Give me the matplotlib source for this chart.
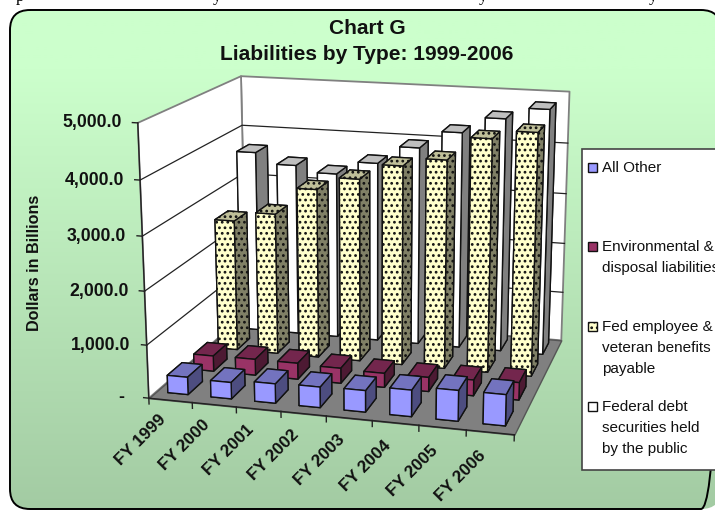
import numpy as np
import matplotlib
matplotlib.use("Agg")
import matplotlib.pyplot as plt
from matplotlib.patches import FancyBboxPatch, Rectangle
from mpl_toolkits.mplot3d import art3d

plt.rcParams['font.family'] = ['Liberation Sans', 'DejaVu Sans']
plt.rcParams['hatch.linewidth'] = 1.2
plt.rcParams['hatch.color'] = '#222222'

years = ["FY 1999", "FY 2000", "FY 2001", "FY 2002", "FY 2003", "FY 2004", "FY 2005", "FY 2006"]
all_other = [330, 310, 365, 385, 400, 490, 565, 570]
environmental = [300, 310, 310, 290, 270, 270, 300, 330]
fed_employee = [2590, 2780, 3310, 3560, 3860, 4020, 4460, 4620]
federal_debt = [3660, 3450, 3330, 3590, 3940, 4280, 4590, 4810]
z_ticks = [0, 1000, 2000, 3000, 4000, 5000]
z_labels = ["-", "1,000.0", "2,000.0", "3,000.0", "4,000.0", "5,000.0"]

# front, top, side colours of each series, front row first
series = [
    (all_other, '#9999FF', '#7373BF', '#4D4D80', None),
    (environmental, '#993366', '#73264D', '#4D1A33', None),
    (fed_employee, '#FFFFCC', '#BFBF99', '#808066', '...'),
    (federal_debt, '#FFFFFF', '#BFBFBF', '#808080', None),
]

XMAX, YMAX, ZMAX = 8, 4, 5000
BAR_W = 0.47
BAR_D = 0.55

# where the box corners sit in the picture, used to fit the camera
world_pts = [(0, 0, 0), (8, 0, 0), (8, 4, 0), (0, 4, 0), (0, 0, 5000), (0, 4, 5000), (8, 4, 5000),
             (0, 0, 4000), (0, 4, 4000), (8, 4, 4000)]
pixel_pts = [(149, 396), (515, 436), (561, 339), (246, 316), (138, 124), (241, 76), (570, 92),
             (139, 180), (243, 124), (567, 143)]


def fit_camera(world, pixels):
    scale = np.diag([1 / XMAX, 1 / YMAX, 1 / ZMAX, 1])
    rows, rhs = [], []
    for (x, y, z), (u, v) in zip(world, pixels):
        x, y, z = x / XMAX, y / YMAX, z / ZMAX
        rows.append([x, y, z, 1, 0, 0, 0, 0, -u * x, -u * y, -u * z])
        rows.append([0, 0, 0, 0, x, y, z, 1, -v * x, -v * y, -v * z])
        rhs += [u, v]
    p = np.linalg.lstsq(np.array(rows), np.array(rhs, dtype=float), rcond=None)[0]
    return np.append(p, 1).reshape(3, 4) @ scale


P = fit_camera(world_pts, pixel_pts)


def to_pixels(x, y, z):
    u, v, w = P @ np.array([x, y, z, 1.0])
    return u / w, v / w


fig = plt.figure(figsize=(7.15, 5.11), dpi=100)
W, H = 715, 511

# background panel
bg = fig.add_axes([0, 0, 1, 1], zorder=0)
bg.set_xlim(0, W)
bg.set_ylim(H, 0)
bg.axis('off')
t = np.clip((np.linspace(0, H, 256) - 70) / 440, 0, 1)[:, None, None]
grad = (1 - t) * np.array([204, 255, 204]) / 255 + t * np.array([163, 203, 163]) / 255
panel = FancyBboxPatch((10, 10), 711, 499, boxstyle="round,pad=0,rounding_size=20",
                       fc='none', ec='black', lw=1.4)
bg.add_patch(panel)
im = bg.imshow(grad, extent=(0, W, H, 0), aspect='auto', zorder=0)
im.set_clip_path(panel)
panel.set_zorder(1)

# chart
ax = fig.add_axes([0, 0, 1, 1], projection='3d', zorder=1)
ax.set_axis_off()
ax.patch.set_visible(False)
ax.computed_zorder = False


def get_proj():
    ax.apply_aspect()
    to_view = np.linalg.inv(ax.transData.get_matrix())
    flip = np.array([[1, 0, 0], [0, -1, H], [0, 0, 1.0]])
    m = to_view @ flip @ P
    return np.vstack([m[0], m[1], [0, 0, 0, -1], m[2]])


ax.get_proj = get_proj

walls = [
    [(0, 0, 0), (0, YMAX, 0), (0, YMAX, ZMAX), (0, 0, ZMAX)],
    [(0, YMAX, 0), (XMAX, YMAX, 0), (XMAX, YMAX, ZMAX), (0, YMAX, ZMAX)],
]
ax.add_collection3d(art3d.Poly3DCollection(walls, facecolors='white', edgecolors='#808080',
                                           linewidths=1.3, zorder=1))
floor = [[(0, 0, 0), (XMAX, 0, 0), (XMAX, YMAX, 0), (0, YMAX, 0)]]
ax.add_collection3d(art3d.Poly3DCollection(floor, facecolors='#808080', edgecolors='#555555',
                                           linewidths=1, zorder=2))

for z in z_ticks[1:-1]:
    ax.plot([0, 0, XMAX], [0, YMAX, YMAX], [z, z, z], color='#222222', lw=0.9, zorder=3)
# axis lines and tick marks
ax.plot([0, 0], [0, 0], [0, ZMAX], color='#222222', lw=1, zorder=4)
ax.plot([0, XMAX], [0, 0], [0, 0], color='#222222', lw=1, zorder=4)
for z in z_ticks:
    ax.plot([-0.12, 0], [0, 0], [z, z], color='#222222', lw=1, zorder=4)
for i in range(XMAX + 1):
    ax.plot([i, i], [0, 0], [0, -110], color='#222222', lw=1, zorder=4)

order = 5
for row in range(3, -1, -1):
    values, front, top, side, hatch = series[row]
    for i, val in enumerate(values):
        # faces in bar3d order: bottom, top, front, back, left, right
        colors = [side, top, front, side, side, side]
        ax.bar3d(i + 0.5 - BAR_W / 2, row + 0.55 - BAR_D / 2, 0, BAR_W, BAR_D, val, color=colors,
                 shade=False, edgecolor='#111111', linewidth=1.0, hatch=hatch, zorder=order)
        order += 1

# text on top of everything, in picture pixels
over = fig.add_axes([0, 0, 1, 1], zorder=2)
over.set_xlim(0, W)
over.set_ylim(H, 0)
over.axis('off')

# descenders of the text line above the chart, the rest is cropped away
for x, ch in [(20, "p"), (217, "y"), (483, "y"), (653, "y")]:
    over.text(x, 1, ch, ha='center', va='baseline', fontsize=12, family='Liberation Serif', color='black')

over.text(367, 28, "Chart G", ha='center', va='center', fontsize=15, fontweight='bold', color='#111111')
over.text(367, 54, "Liabilities by Type: 1999-2006", ha='center', va='center', fontsize=15,
          fontweight='bold', color='#111111')
over.text(35, 263, "Dollars in Billions", rotation=90, ha='center', va='center', fontsize=11.6,
          fontweight='bold', color='#111111')

for z, lab in zip(z_ticks, z_labels):
    u, v = to_pixels(0, 0, z)
    if lab == "-":
        over.text(u - 25, v - 1, lab, ha='right', va='center', fontsize=12.7, fontweight='bold', color='#111111')
    else:
        over.text(u - 16, v, lab, ha='right', va='center', fontsize=12.7, fontweight='bold', color='#111111')

for i, lab in enumerate(years):
    u, v = to_pixels(i + 0.5, 0, 0)
    over.text(u - 7, v + 17 + 0.6 * i, lab, rotation=45, rotation_mode='anchor', ha='right', va='center',
              fontsize=12.3, fontweight='bold', color='#111111')

# legend box runs off the right edge of the picture
over.add_patch(Rectangle((582, 149), 150, 321, fc='white', ec='#444444', lw=1.2))
legend_rows = [
    (168, series[0], [(168, "All Other")]),
    (247, series[1], [(247, "Environmental &"), (268, "disposal liabilities")]),
    (327, series[2], [(327, "Fed employee &"), (348, "veteran benefits"), (369, "payable")]),
    (407, series[3], [(407, "Federal debt"), (428, "securities held"), (449, "by the public")]),
]
for y, s, lines in legend_rows:
    over.add_patch(Rectangle((587.5, y - 4.5), 9, 9, fc=s[1], ec='#111111', lw=1, hatch=s[4]))
    for yy, txt in lines:
        over.text(602, yy, txt, ha='left', va='center', fontsize=11, color='#111111')

fig.savefig("out.png", dpi=100)
